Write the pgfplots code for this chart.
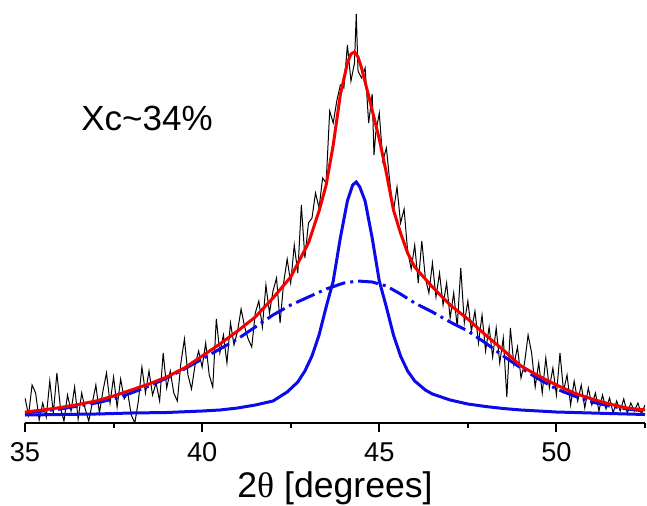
\documentclass[border=0pt]{standalone}
\usepackage{fontspec}
\setmainfont{Liberation Sans}
\newfontfamily\seriffont{Liberation Serif}
\usepackage{pgfplots}
\usepackage{pgfplotstable}
\pgfplotsset{compat=1.18}

\pgfplotstableread{
x y
35.0 25
35.1 8
35.2 38
35.3 30
35.4 3
35.5 20
35.6 6
35.7 42
35.8 10
35.9 50
36.0 15
36.1 2
36.2 28
36.3 12
36.4 36
36.5 4
36.6 30
36.7 14
36.8 2
36.9 20
37.0 38
37.1 10
37.2 32
37.3 50
37.4 20
37.5 46
37.6 16
37.7 44
37.8 24
37.9 30
38.0 8
38.1 0
38.2 22
38.3 56
38.4 30
38.5 52
38.6 28
38.7 40
38.8 22
38.9 70
39.0 35
39.1 52
39.2 30
39.3 22
39.4 60
39.5 84
39.6 48
39.7 34
39.8 58
39.9 72
40.0 56
40.1 80
40.2 48
40.3 36
40.4 104
40.5 70
40.6 88
40.7 60
40.8 100
40.9 78
41.0 92
41.1 114
41.2 96
41.3 84
41.4 76
41.5 110
41.6 122
41.7 96
41.8 138
41.9 110
42.0 132
42.1 145
42.2 100
42.3 140
42.4 164
42.5 140
42.6 178
42.7 150
42.8 218
42.9 165
43.0 200
43.1 205
43.2 230
43.3 215
43.4 245
43.5 240
43.6 312
43.7 300
43.8 322
43.9 338
44.0 335
44.1 378
44.2 342
44.3 360
44.35 409
44.4 352
44.5 345
44.6 355
44.7 300
44.8 329
44.85 268
44.9 290
45.0 310
45.1 262
45.2 275
45.3 240
45.4 212
45.5 236
45.6 200
45.7 214
45.8 172
45.9 154
46.0 178
46.1 140
46.2 182
46.3 145
46.4 130
46.5 160
46.6 126
46.7 150
46.8 118
46.9 140
47.0 105
47.1 130
47.2 96
47.3 155
47.4 100
47.5 122
47.6 92
47.7 112
47.8 80
47.9 108
48.0 72
48.1 96
48.2 66
48.3 95
48.4 60
48.5 85
48.6 26
48.7 95
48.8 58
48.9 76
49.0 45
49.1 60
49.2 88
49.3 70
49.4 36
49.5 60
49.6 30
49.7 65
49.8 35
49.9 55
50.0 28
50.1 70
50.2 32
50.3 48
50.4 18
50.5 42
50.6 22
50.7 38
50.8 15
50.9 35
51.0 18
51.1 30
51.2 12
51.3 28
51.4 14
51.5 25
51.6 10
51.7 22
51.8 12
51.9 24
52.0 10
52.1 20
52.2 12
52.3 20
52.4 9
52.5 18
}\measured

\pgfplotstableread{
x y
35.0 11
35.5 13
36.0 15.5
36.5 18.5
37.0 22
37.5 27
38.0 33
38.5 39
39.0 46
39.5 55
40.0 67
40.5 79
41.0 92
41.5 106
42.0 125
42.5 146
43.0 180
43.3 212
43.5 238
43.7 278
43.9 328
44.1 360
44.2 369
44.3 371
44.4 366
44.5 355
44.7 327
45.0 284
45.2 250
45.4 213
45.6 190
45.8 170
46.0 156
46.5 136
47.0 118
47.5 104
48.0 88
48.5 73
49.0 57
49.5 47
50.0 38
50.5 30
51.0 24
51.5 19
52.0 15
52.5 13
}\fitsum

\pgfplotstableread{
x y
35.0 8
36.0 8.5
37.0 9
38.0 10
39.0 10.5
40.0 12
40.5 13
41.0 15
41.5 18
42.0 22
42.4 31
42.7 41
42.9 52
43.1 67
43.3 88
43.5 116
43.7 142
43.9 185
44.1 222
44.25 238
44.35 241
44.45 236
44.6 222
44.8 185
45.0 142
45.2 116
45.4 88
45.6 67
45.8 52
46.0 42
46.3 33
46.5 29
47.0 23
47.5 19
48.0 16.5
48.5 14.5
49.0 13
49.5 12
50.0 11
51.0 10
52.0 9
52.5 8.5
}\narrow

\pgfplotstableread{
x y
35.0 10
35.5 12
36.0 14
36.5 17
37.0 20
37.5 24
38.0 30
38.5 37
39.0 45
39.5 54
40.0 64
40.5 74
41.0 84
41.5 96
42.0 108
42.5 118
43.0 126
43.5 134
44.0 140
44.4 142
44.8 141
45.2 137
45.6 129
46.0 120
46.5 111
47.0 101
47.5 92
48.0 80
48.5 67
49.0 55
49.5 44
50.0 34
50.5 27
51.0 21
51.5 17
52.0 14
52.5 12
}\broad

\begin{document}
\begin{tikzpicture}
\begin{axis}[
  scale only axis,
  width=310pt, height=211.5pt,
  xmin=35, xmax=52.5, ymin=0, ymax=423,
  axis x line=bottom, axis y line=none,
  x axis line style={-, line width=1.3pt},
  xtick={35,40,45,50},
  minor xtick={37.5,42.5,47.5,52.5},
  tick align=outside,
  major tick length=4.5pt, minor tick length=2.5pt,
  every tick/.style={black, line width=1pt},
  ytick=\empty,
  /pgf/number format/assume math mode=true,
  xticklabel style={font=\fontsize{13.6pt}{13.6pt}\selectfont, anchor=base, yshift=-14.5pt},
  xlabel={2{\seriffont θ} [degrees]},
  xlabel style={font=\fontsize{17.8pt}{17.8pt}\selectfont, at={(axis description cs:0.5,0)}, anchor=base, yshift=-37.3pt},
]
\addplot[black, line width=0.5pt] table[x=x,y=y] {\measured};
\addplot[color={rgb,255:red,10;green,10;blue,235}, line width=1.5pt, dash pattern=on 10pt off 2.5pt on 1.5pt off 2.5pt] table[x=x,y=y] {\broad};
\addplot[color={rgb,255:red,10;green,10;blue,235}, line width=1.5pt] table[x=x,y=y] {\narrow};
\addplot[color={rgb,255:red,245;green,0;blue,0}, line width=1.5pt] table[x=x,y=y] {\fitsum};
\node[anchor=base west, font=\fontsize{17.5pt}{17.5pt}\selectfont, inner sep=0pt] at (axis cs:36.58,293) {Xc\textasciitilde34\%};
\coordinate (bl) at (rel axis cs:0,0);
\coordinate (tr) at (rel axis cs:1,1);
\end{axis}
\pgfresetboundingbox
\path ([shift={(-12.5pt,-41pt)}]bl) rectangle ([xshift=1pt]tr);
\end{tikzpicture}
\end{document}
